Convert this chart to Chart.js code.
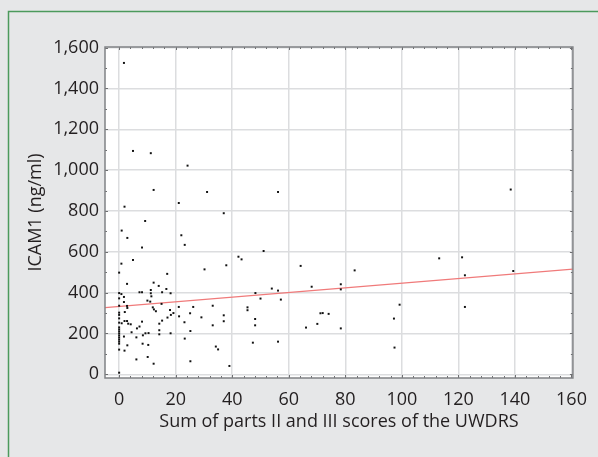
<!DOCTYPE html>
<html>
<head>
<meta charset="utf-8">
<script src="https://cdn.jsdelivr.net/npm/chart.js@4/dist/chart.umd.min.js"></script>
<style>
  html, body { margin: 0; padding: 0; background: #e6e7e8; }
  #wrap { width: 598px; height: 457px; position: relative; }
</style>
</head>
<body>
<div id="wrap"><canvas id="scatterChart" width="598" height="457"></canvas></div>
<script>
// UWDRS score (parts II + III) vs ICAM1
var uwdrs = [
  1.7, 4.9, 11.2, 24.2, 12.2, 31.1, 56.2, 138.5, 1.9, 21.1,
  37, 9.2, 0.9, 2.9, 22, 23.2, 8.1, 51.1, 4.9, 42.2,
  43.3, 113.2, 121.3, 64.2, 0.8, 37.9, 30.2, 83.3, 139.4, 0,
  17, 122.3, 2.8, 12.2, 14, 16.7, 68.1, 78.4, 78.4, 54,
  56.2, 0, 0.8, 1.7, 7.2, 8.1, 11.2, 11.2, 11.4, 15.2,
  18.2, 48.2, 50, 57.2, 0, 0, 1.7, 2.8, 2.9, 10,
  11, 11.9, 12.3, 13, 15, 21.1, 26.2, 33.1, 45.4, 45.4,
  99.2, 122.3, 0, 0, 2, 18, 19.2, 18.3, 21.2, 25.1,
  29.1, 37, 37, 48.1, 72, 71.2, 74.1, 97.2, 0, 0,
  0.9, 1.9, 2.8, 3.2, 4.1, 8.1, 14.2, 15.2, 17.1, 23.1,
  33.1, 48.1, 70.1, 66.1, 78.4, 0, 0, 0, 0, 0,
  0, 0, 0, 0, 6.3, 7.2, 4.4, 1.7, 6.1, 8.4,
  9.3, 10.4, 14.2, 14.2, 18.2, 25.2, 23.2, 8.3, 10.3, 2.9,
  1.9, 0, 34.2, 35, 47.3, 56.2, 97.4, 6.1, 10.1, 12.2,
  25.2, 39, 0
];
var icam1 = [
  1525, 1094, 1083, 1022, 903, 893, 893, 905, 821, 839,
  789, 751, 704, 668, 681, 634, 621, 604, 560, 576,
  563, 568, 573, 531, 542, 534, 514, 509, 506, 498,
  492, 485, 443, 449, 433, 418, 429, 441, 416, 420,
  410, 398, 393, 379, 402, 402, 413, 397, 382, 402,
  397, 398, 371, 366, 372, 336, 354, 335, 325, 361,
  356, 328, 318, 309, 345, 330, 330, 336, 328, 314,
  341, 330, 302, 291, 305, 315, 300, 291, 284, 299,
  279, 289, 260, 271, 300, 299, 296, 273, 274, 253,
  250, 261, 261, 248, 245, 258, 248, 263, 278, 255,
  240, 240, 247, 229, 225, 230, 220, 210, 200, 190,
  180, 170, 160, 150, 225, 234, 206, 185, 181, 191,
  201, 202, 216, 196, 201, 212, 175, 150, 144, 142,
  116, 121, 136, 122, 155, 160, 131, 73, 85, 52,
  64, 41, 8
];
// fitted regression line end points
var trendX = [-5, 160.5];
var trendY = [327, 515];

var xTicks = [0, 20, 40, 60, 80, 100, 120, 140, 160];
var yTicks = [0, 200, 400, 600, 800, 1000, 1200, 1400, 1600];

var points = [];
for (var i = 0; i < uwdrs.length; i++) {
  points.push({ x: uwdrs[i], y: icam1[i] });
}
var trendPoints = [];
for (var j = 0; j < trendX.length; j++) {
  trendPoints.push({ x: trendX[j], y: trendY[j] });
}

var fontFamily = "'Open Sans', 'Noto Sans', sans-serif";
var textColor = "#231f20";

var framePlugin = {
  id: "frame",
  beforeDraw: function (chart) {
    var ctx = chart.ctx;
    var area = chart.chartArea;
    ctx.save();
    ctx.fillStyle = "#e6e7e8";
    ctx.fillRect(0, 0, chart.width, chart.height);
    // green panel border (left and top)
    ctx.strokeStyle = "#4c9a5c";
    ctx.lineWidth = 1.5;
    ctx.beginPath();
    ctx.moveTo(8.5, chart.height);
    ctx.lineTo(8.5, 11.5);
    ctx.lineTo(chart.width, 11.5);
    ctx.stroke();
    ctx.fillStyle = "#ffffff";
    ctx.fillRect(area.left, area.top, area.right - area.left, area.bottom - area.top);
    ctx.restore();
  },
  afterDatasetsDraw: function (chart) {
    var ctx = chart.ctx;
    var area = chart.chartArea;
    var xs = chart.scales.x;
    var ys = chart.scales.y;
    ctx.save();
    ctx.strokeStyle = "#6d6e70";
    ctx.lineWidth = 1;
    ctx.beginPath();
    for (var v = 0; v <= 160; v += 4) {
      var px = Math.round(xs.getPixelForValue(v)) + 0.5;
      var len = v % 20 === 0 ? 3 : 2;
      ctx.moveTo(px, area.top);
      ctx.lineTo(px, area.top + len);
      ctx.moveTo(px, area.bottom);
      ctx.lineTo(px, area.bottom - len);
    }
    for (var w = 0; w <= 1600; w += 100) {
      var py = Math.round(ys.getPixelForValue(w)) + 0.5;
      var len2 = w % 200 === 0 ? 3 : 2;
      ctx.moveTo(area.left, py);
      ctx.lineTo(area.left + len2, py);
      ctx.moveTo(area.right, py);
      ctx.lineTo(area.right - len2, py);
    }
    ctx.stroke();
    ctx.strokeStyle = "#808285";
    ctx.lineWidth = 1.5;
    ctx.strokeRect(area.left, area.top, area.right - area.left, area.bottom - area.top);
    ctx.restore();
  }
};

var ctx = document.getElementById("scatterChart").getContext("2d");
new Chart(ctx, {
  type: "scatter",
  data: {
    datasets: [
      {
        label: "Fit",
        type: "line",
        data: trendPoints,
        borderColor: "#f07a7a",
        borderWidth: 1.3,
        pointRadius: 0,
        fill: false,
        order: 2
      },
      {
        label: "ICAM1",
        data: points,
        backgroundColor: "#111111",
        borderColor: "#111111",
        pointStyle: "rect",
        pointRadius: 1.4,
        borderWidth: 0,
        order: 1
      }
    ]
  },
  plugins: [framePlugin],
  options: {
    responsive: false,
    animation: false,
    layout: { padding: { left: 21, top: 47, right: 21, bottom: 24 } },
    plugins: {
      legend: { display: false },
      tooltip: { enabled: false }
    },
    scales: {
      x: {
        type: "linear",
        min: -5,
        max: 160.5,
        afterBuildTicks: function (scale) {
          scale.ticks = xTicks.map(function (v) { return { value: v }; });
        },
        afterFit: function (scale) { scale.height = 55; },
        grid: { color: "#dcdddf", lineWidth: 1.5, drawTicks: false },
        border: { display: false },
        ticks: {
          padding: 11,
          color: textColor,
          font: { family: fontFamily, size: 18 }
        },
        title: {
          display: true,
          text: "Sum of parts II and III scores of the UWDRS",
          color: textColor,
          padding: { top: 0, bottom: 0 },
          font: { family: fontFamily, size: 18 }
        }
      },
      y: {
        type: "linear",
        min: -18,
        max: 1603,
        afterBuildTicks: function (scale) {
          scale.ticks = yTicks.map(function (v) { return { value: v }; });
        },
        afterFit: function (scale) { scale.width = 84; },
        grid: { color: "#dcdddf", lineWidth: 1.5, drawTicks: false },
        border: { display: false },
        ticks: {
          padding: 6,
          color: textColor,
          font: { family: fontFamily, size: 18 },
          callback: function (value) { return value.toLocaleString("en-US"); }
        },
        title: {
          display: true,
          text: "ICAM1 (ng/ml)",
          color: textColor,
          padding: { bottom: 4 },
          font: { family: fontFamily, size: 18 }
        }
      }
    }
  }
});
</script>
</body>
</html>
